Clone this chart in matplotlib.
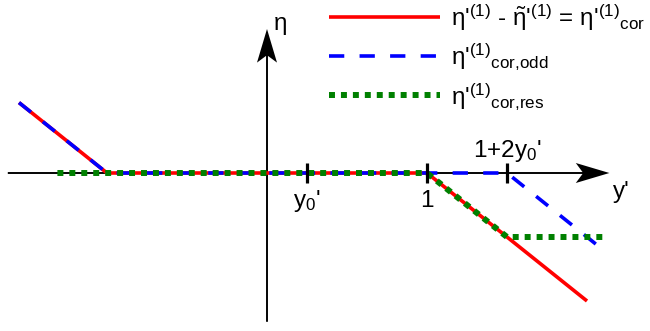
import matplotlib
matplotlib.use('Agg')
import matplotlib.pyplot as plt

plt.rcParams['font.family'] = ['Liberation Sans', 'DejaVu Sans']
plt.rcParams['mathtext.fontset'] = 'custom'
plt.rcParams['mathtext.rm'] = 'Liberation Sans'
plt.rcParams['mathtext.it'] = 'Liberation Sans'
plt.rcParams['mathtext.bf'] = 'Liberation Sans:bold'
plt.rcParams['lines.scale_dashes'] = False

# data (y' on x, eta on y)
y0 = 0.25
cor_x = [-1.55, -1.0, 1.0, 2.0]
cor_y = [0.44, 0.0, 0.0, -0.8]
odd_x = [-1.55, -1.0, 1.0 + 2 * y0, 2.125]
odd_y = [0.44, 0.0, 0.0, -0.5]
res_x = [-1.31, 1.0, 1.0 + 2 * y0, 2.11]
res_y = [0.0, 0.0, -0.4, -0.4]
tick_pos = [y0, 1.0, 1.0 + 2 * y0]
tick_lab = ["$y_0$'", "1", "1+2$y_0$'"]
labels = [r"$\eta$'$^{(1)}$ - $\tilde{\eta}$'$^{(1)}$ = $\eta$'$^{(1)}{}_{cor}$",
          r"$\eta$'$^{(1)}{}_{cor{,}odd}$",
          r"$\eta$'$^{(1)}{}_{cor{,}res}$"]

fig = plt.figure(figsize=(6.5, 3.31), dpi=100)
ax = fig.add_axes([0, 0, 1, 1])
ax.set_xlim(-267 / 160, 383 / 160)
ax.set_ylim(-158 / 160, 173 / 160)
ax.axis('off')

# axes with arrows
ax.arrow(-1.62, 0, 2.14 + 1.62, 0, width=0.012, head_width=0.125, head_length=0.21,
         overhang=0.2, length_includes_head=True, color='k', lw=0, zorder=1)
ax.arrow(0, -0.93, 0, 0.93 + 0.9, width=0.012, head_width=0.125, head_length=0.21,
         overhang=0.2, length_includes_head=True, color='k', lw=0, zorder=1)

ax.plot(cor_x, cor_y, color='red', lw=2.6, solid_capstyle='butt', label=labels[0], zorder=2)
ax.plot(odd_x, odd_y, color='blue', lw=2.6, ls=(0, (11, 11)), label=labels[1], zorder=3)
ax.plot(res_x, res_y, color='green', lw=4.3, ls=(0, (4.3, 4.3)), label=labels[2], zorder=4)

# ticks
ax.plot(tick_pos, [0] * len(tick_pos), ls='none', marker='|', ms=14.5, mew=2.3, color='k', zorder=5)
ax.text(tick_pos[0], -0.215, tick_lab[0], ha='center', va='baseline', fontsize=17.5)
ax.text(tick_pos[1], -0.215, tick_lab[1], ha='center', va='baseline', fontsize=17.5)
ax.text(tick_pos[2], 0.1, tick_lab[2], ha='center', va='baseline', fontsize=17.5)

ax.text(0.04, 0.92, r"$\eta$", ha='left', va='center', fontsize=17.5)
ax.text(2.16, -0.12, "y'", ha='left', va='center', fontsize=17.5)

ax.legend(loc='upper left', bbox_to_anchor=(327 / 650, 1.0), frameon=False, fontsize=17.5,
          handlelength=4.55, handletextpad=0.45, labelspacing=0.35, borderaxespad=0,
          borderpad=0.1)

plt.savefig('out.png', dpi=100)
